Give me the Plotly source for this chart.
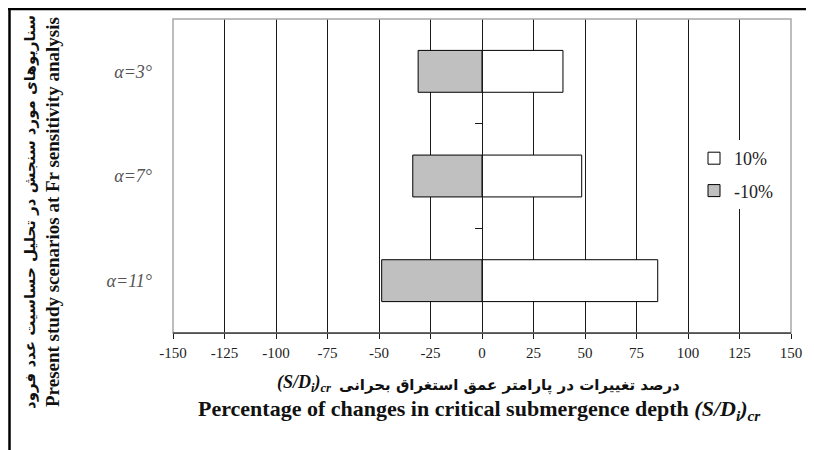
import plotly.graph_objects as go

categories = ["α=11°", "α=7°", "α=3°"]
pos_values = [85.3, 48.4, 39.3]
neg_values = [-48.7, -33.6, -31.0]
series_names = ["10%", "-10%"]
x_ticks = [-150, -125, -100, -75, -50, -25, 0, 25, 50, 75, 100, 125, 150]

# page body has an 8px margin; figure is sized to fill the rest of the window
OFF = 8
W, H = 814 - OFF, 450 - OFF
PL, PR, PT, PB = 173, 791, 19, 333          # plot area in window pixels
L, R, T, B = PL - OFF, 814 - PR, PT - OFF, 450 - PB
pw, ph = PR - PL, PB - PT

def px(x):
    return (x - PL) / pw

def py(y):
    return (PB - y) / ph

serif = "Liberation Serif, Times New Roman, serif"
farsi = "DejaVu Sans, Noto Sans, sans-serif"

fig = go.Figure()
fig.add_trace(go.Bar(
    y=categories, x=pos_values, orientation="h", name=series_names[0], legendgroup="a",
    marker=dict(color="white", line=dict(color="black", width=1)),
))
fig.add_trace(go.Bar(
    y=categories, x=neg_values, orientation="h", name=series_names[1], legendgroup="b",
    marker=dict(color="#c0c0c0", line=dict(color="black", width=1)),
))
# invisible trace to host the centre vertical axis
fig.add_trace(go.Scatter(x=[0], y=[1], yaxis="y2", mode="markers",
                         marker=dict(opacity=0), showlegend=False, hoverinfo="skip"))

fig.update_layout(
    width=W, height=H,
    margin=dict(l=L, r=R, t=T, b=B),
    paper_bgcolor="white", plot_bgcolor="white",
    barmode="relative", bargap=0.6,
    font=dict(family=serif, color="#222"),
    showlegend=True,
    legend=dict(x=px(694), y=py(140), xanchor="left", yanchor="top",
                bgcolor="white", font=dict(family=serif, size=18, color="#222"),
                tracegroupgap=6, itemwidth=30),
    xaxis=dict(
        range=[-150, 150], tickvals=x_ticks, ticktext=[str(v) for v in x_ticks],
        showgrid=True, gridcolor="#1a1a1a", gridwidth=1,
        zeroline=False, showline=True, linecolor="#1a1a1a", linewidth=1,
        ticks="outside", ticklen=5, tickcolor="#1a1a1a", ticklabelstandoff=1,
        tickfont=dict(family=serif, size=15, color="#222"),
    ),
    yaxis=dict(
        type="category", categoryorder="array", categoryarray=categories,
        range=[-0.5, 2.5], showgrid=False, zeroline=False, showline=False,
        ticks="", ticklabelstandoff=20,
        tickfont=dict(family=serif, size=18, color="#555", style="italic"),
    ),
    yaxis2=dict(
        overlaying="y", anchor="free", position=px(482), range=[-0.5, 2.5],
        tickvals=[0.5, 1.5], showticklabels=False, ticks="outside", ticklen=7,
        tickcolor="#1a1a1a", showline=True, linecolor="#1a1a1a", linewidth=1,
        showgrid=False, zeroline=False,
    ),
)

shapes = [
    dict(type="rect", xref="paper", yref="paper", x0=0, x1=1, y0=0, y1=1,
         line=dict(color="#a8a8a8", width=1.5), layer="above"),
    dict(type="line", xref="paper", yref="paper", x0=0, x1=1, y0=0, y1=0,
         line=dict(color="#1a1a1a", width=1), layer="above"),
    dict(type="line", xref="paper", yref="paper", x0=px(8), x1=px(816), y0=py(9), y1=py(9),
         line=dict(color="black", width=2.5)),
    dict(type="line", xref="paper", yref="paper", x0=px(9.5), x1=px(9.5), y0=py(8), y1=py(455),
         line=dict(color="black", width=2.5)),
]
fig.update_layout(shapes=shapes)

ann = [
    dict(text="<b>درصد تغییرات در پارامتر عمق استغراق بحرانی</b>", x=px(682), y=py(385),
         xanchor="right", yanchor="middle", font=dict(family=farsi, size=15, color="#111")),
    dict(text="<b><i>(S/D<sub>i</sub>)<sub>cr</sub></i></b>", x=px(333), y=py(383),
         xanchor="right", yanchor="middle", font=dict(family=serif, size=18, color="#111")),
    dict(text="<b>Percentage of changes in critical submergence depth <i>(S/D<sub>i</sub>)<sub>cr</sub></i></b>",
         x=px(479), y=py(410), xanchor="center", yanchor="middle",
         font=dict(family=serif, size=22, color="#111")),
    dict(text="<b>سناریوهای مورد سنجش در تحلیل حساسیت عدد فرود</b>", x=px(30), y=py(212),
         xanchor="center", yanchor="middle", textangle=-90,
         font=dict(family=farsi, size=15, color="#111")),
    dict(text="<b>Present study scenarios at Fr sensitivity analysis</b>", x=px(52), y=py(212),
         xanchor="center", yanchor="middle", textangle=-90,
         font=dict(family=serif, size=19, color="#111")),
]
for a in ann:
    a.update(xref="paper", yref="paper", showarrow=False)
fig.update_layout(annotations=ann)

fig.write_html("out.html")
